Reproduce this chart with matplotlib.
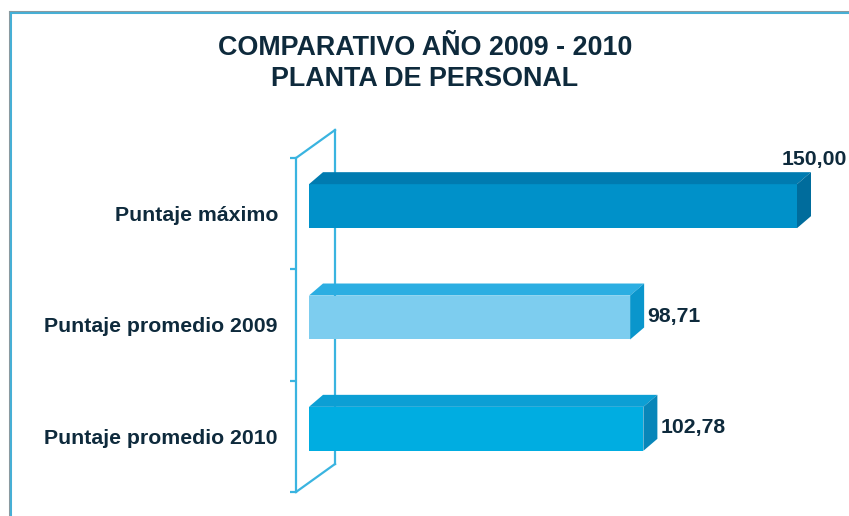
import numpy as np
import matplotlib.pyplot as plt
from matplotlib.patches import Polygon
from matplotlib.lines import Line2D
from matplotlib.transforms import ScaledTranslation, IdentityTransform

categories = ['Puntaje máximo', 'Puntaje promedio 2009', 'Puntaje promedio 2010']
values = [150.00, 98.71, 102.78]
value_labels = ['150,00', '98,71', '102,78']

front_colors = ['#0091c9', '#7dcdef', '#00ade1']
top_colors = ['#007bb0', '#2caee2', '#0c9fd4']
side_colors = ['#006c9c', '#0a96cc', '#0886b9']

WALL = '#3ab4e0'
TEXT = '#0e2a3c'

plt.rcParams['font.family'] = ['Liberation Sans', 'DejaVu Sans']

DPI = 100
W, H = 849, 516
fig = plt.figure(figsize=(W / DPI, H / DPI), dpi=DPI)
fig.patch.set_facecolor('white')

# axes = front plane of the 3d wall (pixel box 296..784 x 158..492)
ax = fig.add_axes([296 / W, (H - 492) / H, 488 / W, 334 / H])
ax.set_xlim(0, 150)
ax.set_ylim(2.5, -0.5)
ax.patch.set_visible(False)

def px(v):
    return v / DPI

bar_shift = ax.transData + ScaledTranslation(px(13), px(7.5), fig.dpi_scale_trans)
depth = np.array([14, 12])
wall_depth = np.array([39, 28])

# back wall
back = ax.transData + ScaledTranslation(px(wall_depth[0]), px(wall_depth[1]), fig.dpi_scale_trans)
ax.add_line(Line2D([0, 0], [-0.5, 2.5], transform=back, color=WALL, lw=1.6,
                   clip_on=False, zorder=1))
for yy in (-0.5, 2.5):
    p = ax.transData.transform((0, yy))
    ax.add_artist(Line2D([p[0], p[0] + wall_depth[0]], [p[1], p[1] + wall_depth[1]],
                         transform=IdentityTransform(), color=WALL, lw=1.6,
                         clip_on=False, zorder=1))

# bars with fake 3d faces
bars = ax.barh(range(len(values)), values, height=0.395, color=front_colors, zorder=3)
for b, ct, cs in zip(bars, top_colors, side_colors):
    b.set_transform(bar_shift)
    b.set_clip_on(False)
    x0, y0, w, h = b.get_x(), b.get_y(), b.get_width(), b.get_height()
    tl = bar_shift.transform((x0, y0))
    tr = bar_shift.transform((x0 + w, y0))
    br = bar_shift.transform((x0 + w, y0 + h))
    ax.add_artist(Polygon([tl, tr, tr + depth, tl + depth], closed=True,
                          transform=IdentityTransform(), facecolor=ct,
                          edgecolor='none', clip_on=False, zorder=3))
    ax.add_artist(Polygon([tr, br, br + depth, tr + depth], closed=True,
                          transform=IdentityTransform(), facecolor=cs,
                          edgecolor='none', clip_on=False, zorder=3))

# value labels
for i, (v, lab) in enumerate(zip(values, value_labels)):
    if v >= ax.get_xlim()[1]:
        ax.annotate(lab, (v, i), xytext=(22, 39), textcoords='offset points',
                    ha='center', va='center', fontsize=15.3, fontweight='bold',
                    color=TEXT, annotation_clip=False)
    else:
        ax.annotate(lab, (v, i), xytext=(21.5, 6), textcoords='offset points',
                    ha='left', va='center', fontsize=15.3, fontweight='bold',
                    color=TEXT, annotation_clip=False)

# axis styling
for s in ['top', 'right', 'bottom']:
    ax.spines[s].set_visible(False)
ax.spines['left'].set_color(WALL)
ax.spines['left'].set_linewidth(1.6)
ax.set_xticks([])
ax.set_yticks(range(len(categories)), labels=categories)
ax.set_yticks([-0.5, 0.5, 1.5, 2.5], minor=True)
ax.tick_params(axis='y', which='major', length=0, pad=13)
ax.tick_params(axis='y', which='minor', length=4, width=1.6, color=WALL)
for t in ax.get_yticklabels():
    t.set_fontsize(15.3)
    t.set_fontweight('bold')
    t.set_color(TEXT)

fig.text(425 / W, 1 - 48 / H, 'COMPARATIVO AÑO 2009 - 2010', ha='center', va='center',
         fontsize=19.4, fontweight='bold', color=TEXT)
fig.text(425 / W, 1 - 79 / H, 'PLANTA DE PERSONAL', ha='center', va='center',
         fontsize=19.4, fontweight='bold', color=TEXT)

# frame border (top and left)
bx, by = 9.5 / W, 1 - 11.5 / H
fig.add_artist(Line2D([bx, 1], [by, by], transform=fig.transFigure, color='#8a9aa0', lw=2.2))
fig.add_artist(Line2D([bx, bx], [by, 0], transform=fig.transFigure, color='#8a9aa0', lw=2.2))
fig.add_artist(Line2D([bx + 1 / W, 1], [by - 1 / H, by - 1 / H], transform=fig.transFigure, color=WALL, lw=1.2))
fig.add_artist(Line2D([bx + 1 / W, bx + 1 / W], [by - 1 / H, 0], transform=fig.transFigure, color=WALL, lw=1.2))

fig.savefig('out.png', dpi=DPI)
